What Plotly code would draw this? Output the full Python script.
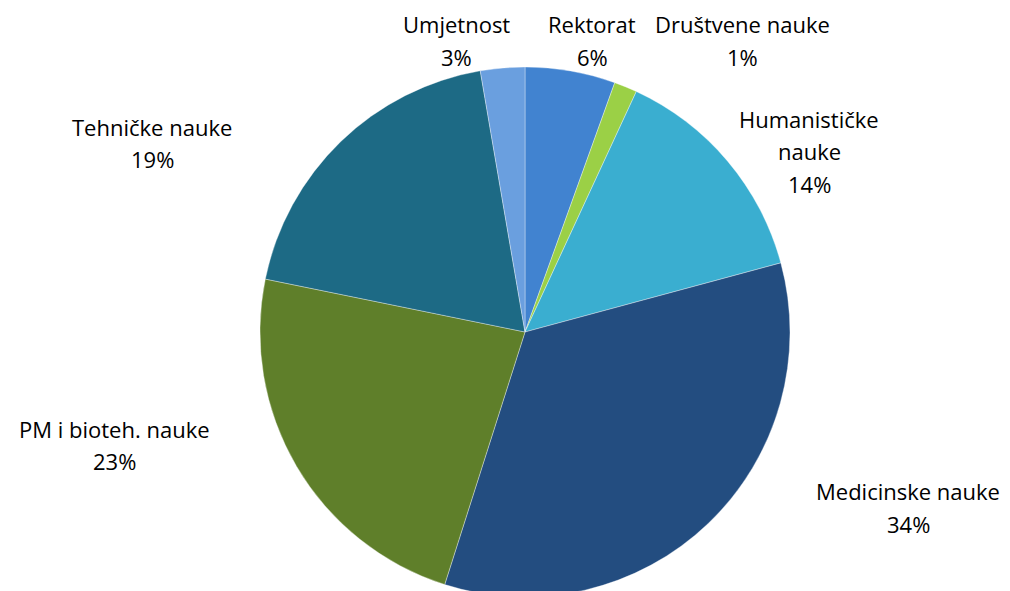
import plotly.graph_objects as go

# slice data, clockwise from 12 o'clock
labels = ['Rektorat', 'Društvene nauke', 'Humanističke nauke', 'Medicinske nauke',
          'PM i bioteh. nauke', 'Tehničke nauke', 'Umjetnost']
values = [5.5, 1.4, 13.9, 34.1, 23.3, 19.1, 2.7]
label_lines = [['Rektorat'], ['Društvene nauke'], ['Humanističke', 'nauke'], ['Medicinske nauke'],
               ['PM i bioteh. nauke'], ['Tehničke nauke'], ['Umjetnost']]
colors = ['#4183d0', '#9bd046', '#3aaed0', '#234d80', '#5f7f2a', '#1d6a85', '#6a9fdf']

total = sum(values)
pcts = ['%d%%' % round(v / total * 100) for v in values]

# label placement in pixels: centre x and baseline of first line
OFF = 8  # page body margin
lab_x = [592, 742, 809, 908, 114, 152, 456]
lab_base = [32, 32, 127, 499, 437, 135, 32]
line_gap = 32.5
W, H = 1010, 591

fig = go.Figure()
fig.add_trace(go.Pie(
    labels=labels, values=values,
    sort=False, direction='clockwise', rotation=0,
    marker=dict(colors=colors, line=dict(color='rgba(255,255,255,0.35)', width=1)),
    textinfo='none', hoverinfo='label+percent',
    domain=dict(x=[(260 - OFF) / W, (790 - OFF) / W], y=[1 - (597 - OFF) / H, 1 - (67 - OFF) / H]),
    showlegend=False,
))

for lines, p, x, b in zip(label_lines, pcts, lab_x, lab_base):
    for i, t in enumerate(lines + [p]):
        y = b + i * line_gap - 8 - OFF
        fig.add_annotation(
            text=t, x=(x - OFF) / W, y=1 - y / H,
            xref='paper', yref='paper', showarrow=False,
            xanchor='center', yanchor='middle', align='center',
            font=dict(family='Open Sans, sans-serif', size=22, color='#000000'),
        )

fig.update_layout(
    width=W, height=H,
    margin=dict(l=0, r=0, t=0, b=0),
    paper_bgcolor='white', plot_bgcolor='white',
)

fig.write_html("out.html")
